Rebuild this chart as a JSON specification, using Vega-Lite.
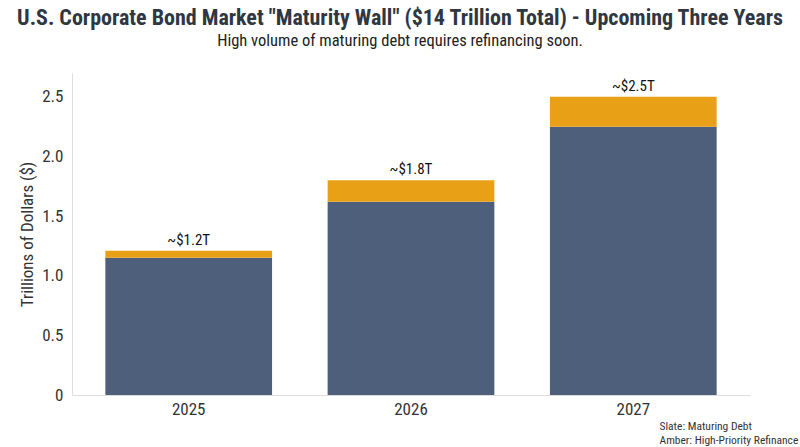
{
  "$schema": "https://vega.github.io/schema/vega-lite/v6.json",
  "width": 678,
  "height": 322,
  "autosize": {"type": "none"},
  "padding": {"left": 72, "top": 73, "right": 50, "bottom": 52},
  "background": "white",
  "config": {
    "view": {"stroke": null},
    "font": "Roboto Condensed, Liberation Sans Narrow, DejaVu Sans Condensed, Roboto"
  },
  "title": {
    "text": "U.S. Corporate Bond Market \"Maturity Wall\" ($14 Trillion Total) - Upcoming Three Years",
    "subtitle": "High volume of maturing debt requires refinancing soon.",
    "anchor": "middle",
    "dx": -11,
    "fontSize": 22,
    "fontWeight": "bold",
    "color": "#2e3742",
    "subtitleFontSize": 16.5,
    "subtitleColor": "#222222",
    "subtitlePadding": 3,
    "offset": 23,
    "font": "Roboto Condensed, Liberation Sans Narrow, DejaVu Sans Condensed, Roboto",
    "subtitleFont": "Roboto Condensed, Liberation Sans Narrow, DejaVu Sans Condensed, Roboto"
  },
  "datasets": {
    "bars": [
      {"year": "2025", "segment": "Maturing Debt", "rank": 1, "value": 1.15},
      {"year": "2025", "segment": "High-Priority Refinance", "rank": 2, "value": 0.06},
      {"year": "2026", "segment": "Maturing Debt", "rank": 1, "value": 1.62},
      {"year": "2026", "segment": "High-Priority Refinance", "rank": 2, "value": 0.18},
      {"year": "2027", "segment": "Maturing Debt", "rank": 1, "value": 2.25},
      {"year": "2027", "segment": "High-Priority Refinance", "rank": 2, "value": 0.25}
    ],
    "totals": [
      {"year": "2025", "total": 1.21, "label": "~$1.2T"},
      {"year": "2026", "total": 1.80, "label": "~$1.8T"},
      {"year": "2027", "total": 2.50, "label": "~$2.5T"}
    ]
  },
  "encoding": {
    "x": {
      "field": "year",
      "type": "nominal",
      "scale": {"paddingInner": 0.25, "paddingOuter": 0.15},
      "axis": {
        "labelAngle": 0,
        "labelFontSize": 17,
        "labelColor": "#333333",
        "labelPadding": 6,
        "ticks": false,
        "domainColor": "#dddddd",
        "title": ["Slate: Maturing Debt", "Amber: High-Priority Refinance"],
        "titleFontSize": 11.5,
        "titleFontWeight": "normal",
        "titleColor": "#333333",
        "titleAnchor": null,
        "titleAlign": "left",
        "titleBaseline": "middle",
        "titleX": 587,
        "titleY": 31,
        "titleLineHeight": 14.5
      }
    }
  },
  "layer": [
    {
      "data": {"name": "bars"},
      "mark": {"type": "bar"},
      "encoding": {
        "y": {
          "field": "value",
          "type": "quantitative",
          "stack": "zero",
          "scale": {"domain": [0, 2.7], "nice": false},
          "axis": {
            "values": [0, 0.5, 1, 1.5, 2, 2.5],
            "labelExpr": "datum.value == 0 ? '0' : format(datum.value, '.1f')",
            "grid": false,
            "ticks": false,
            "domainColor": "#dddddd",
            "labelFontSize": 17,
            "labelColor": "#333333",
            "labelPadding": 9,
            "title": "Trillions of Dollars ($)",
            "titleFontSize": 17,
            "titleFontWeight": "normal",
            "titleColor": "#333333",
            "titlePadding": 5
          }
        },
        "color": {
          "field": "segment",
          "type": "nominal",
          "scale": {
            "domain": ["Maturing Debt", "High-Priority Refinance"],
            "range": ["#4e5f7b", "#e8a117"]
          },
          "legend": null
        },
        "order": {"field": "rank", "type": "quantitative"}
      }
    },
    {
      "data": {"name": "totals"},
      "mark": {"type": "text", "baseline": "bottom", "dy": -3, "fontSize": 15, "color": "#111111"},
      "encoding": {
        "y": {"field": "total", "type": "quantitative"},
        "text": {"field": "label", "type": "nominal"}
      }
    }
  ]
}
